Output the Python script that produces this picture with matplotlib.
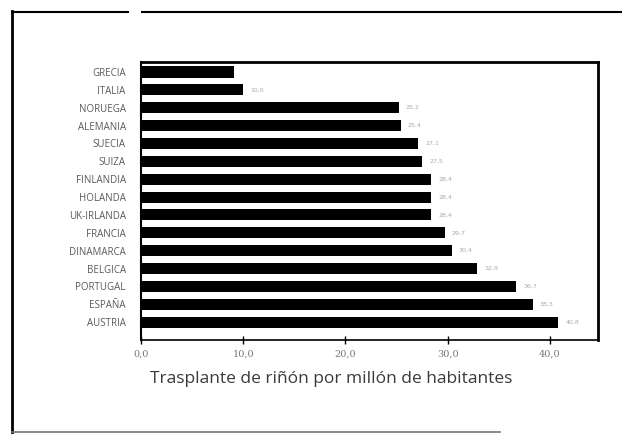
import matplotlib
matplotlib.use("Agg")
import matplotlib.pyplot as plt
from matplotlib.lines import Line2D

countries = ["GRECIA", "ITALIA", "NORUEGA", "ALEMANIA", "SUECIA", "SUIZA",
             "FINLANDIA", "HOLANDA", "UK-IRLANDA", "FRANCIA", "DINAMARCA",
             "BELGICA", "PORTUGAL", "ESPAÑA", "AUSTRIA"]
values = [9.1, 10.0, 25.2, 25.4, 27.1, 27.5, 28.4, 28.4, 28.4, 29.7, 30.4,
          32.9, 36.7, 38.3, 40.8]
show_label = [False] + [True] * 14
xticks = [0, 10, 20, 30, 40]
xticklabels = ["0,0", "10,0", "20,0", "30,0", "40,0"]
xlabel = "Trasplante de riñón por millón de habitantes"

fig = plt.figure(figsize=(6.22, 4.34), dpi=100)
ax = fig.add_axes([0.2267, 0.2166, 0.7347, 0.6405])

n = len(countries)
ypos = list(range(n))
ax.barh(ypos, values, height=0.62, color="black")
ax.set_ylim(n - 1 + 1.0, -0.56)
ax.set_xlim(0, 44.7)
ax.set_yticks(ypos)
ax.set_yticklabels(countries, fontsize=7, color="#5a5a5a", family="Open Sans")
ax.tick_params(axis="y", length=0, pad=11)
ax.set_xticks(xticks)
ax.set_xticklabels(xticklabels, fontsize=7, color="#777777", family="DejaVu Serif")
ax.tick_params(axis="x", direction="inout", length=6, width=1, pad=4)

for y, v, s in zip(ypos, values, show_label):
    if s:
        ax.text(v + 0.7, y, f"{v:.1f}".replace(".", ","), fontsize=4.5,
                color="#aaaaaa", va="center", ha="left")

for side in ["top", "right"]:
    ax.spines[side].set_linewidth(2.0)
ax.spines["left"].set_linewidth(1.5)
ax.spines["bottom"].set_linewidth(1.2)

ax.set_xlabel(xlabel, fontsize=12.5, color="#3a3a3a", family="Open Sans")
ax.xaxis.set_label_coords(0.416, -0.112)

# page frame lines
H, W = 434.0, 622.0
def fl(x0, y0, x1, y1, lw=1.5, c="black"):
    fig.add_artist(Line2D([x0 / W, x1 / W], [1 - y0 / H, 1 - y1 / H],
                          lw=lw, color=c, transform=fig.transFigure))
fl(12, 12, 128, 12)
fl(142, 12, 622, 12)
fl(12, 11, 12, 432, lw=2.0)
fl(12, 432, 500, 432, lw=1.2, c="#777777")

fig.savefig("out.png", dpi=100)
